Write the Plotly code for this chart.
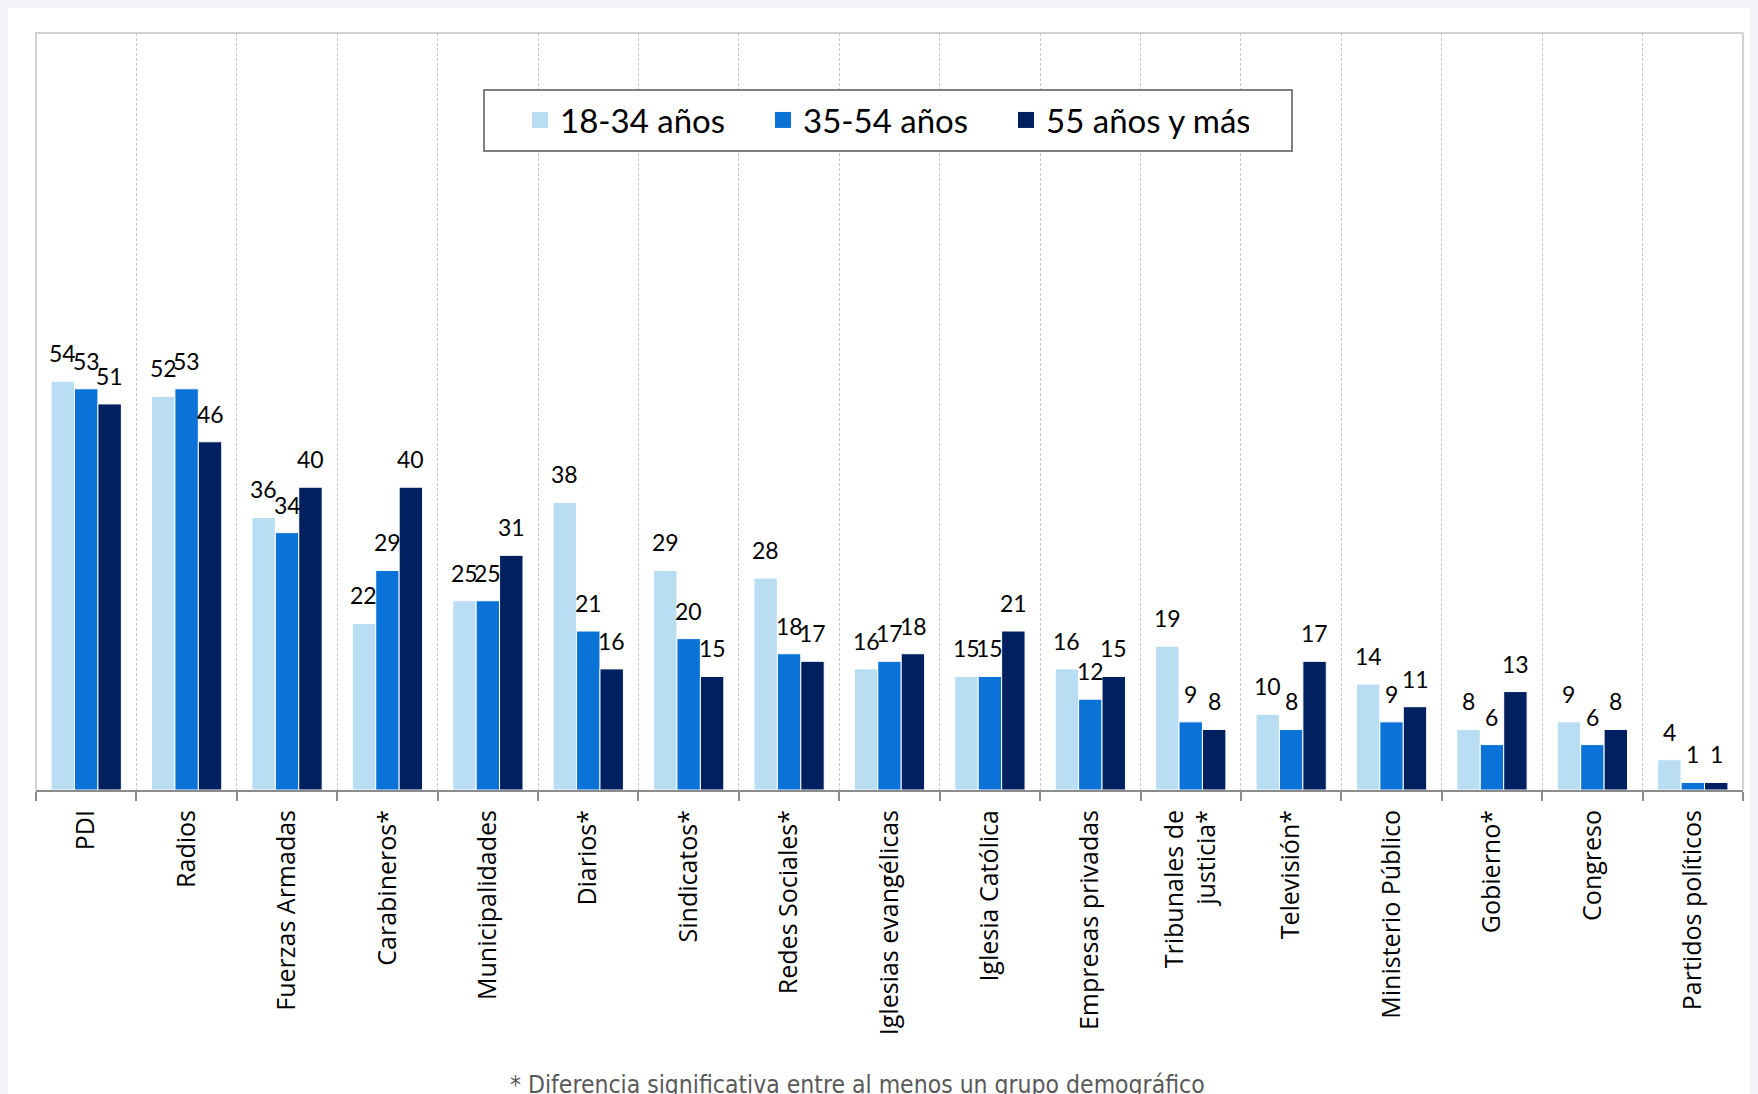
import plotly.graph_objects as go

categories = ["PDI", "Radios", "Fuerzas Armadas", "Carabineros*", "Municipalidades",
              "Diarios*", "Sindicatos*", "Redes Sociales*", "Iglesias evangélicas",
              "Iglesia Católica", "Empresas privadas", "Tribunales de<br>justicia*",
              "Televisión*", "Ministerio Público", "Gobierno*", "Congreso", "Partidos políticos"]
series_names = ["18-34 años", "35-54 años", "55 años y más"]
v_18_34 = [54, 52, 36, 22, 25, 38, 29, 28, 16, 15, 16, 19, 10, 14, 8, 9, 4]
v_35_54 = [53, 53, 34, 29, 25, 21, 20, 18, 17, 15, 12, 9, 8, 9, 6, 6, 1]
v_55_mas = [51, 46, 40, 40, 31, 16, 15, 17, 18, 21, 15, 8, 17, 11, 13, 8, 1]
colors = ["#B9DEF4", "#0B73D7", "#00205F"]
footnote = "* Diferencia significativa entre al menos un grupo demográfico"

W, H = 1758, 1094
OFF = 8  # browser body margin
ML, MR, MT, MB = 36 - OFF, 23, 33 - OFF, 312
PW, PH = W - ML - MR, H - MT - MB


def px_x(px):  # page pixel -> paper
    return (px - OFF - ML) / PW


def px_y(py):
    return (H - MB - (py - OFF)) / PH


fig = go.Figure()
all_vals = [v_18_34, v_35_54, v_55_mas]
for name, vals, col in zip(series_names, all_vals, colors):
    fig.add_trace(go.Bar(x=categories, y=vals, name=name, marker_color=col,
                         marker_line_color="white", marker_line_width=1,
                         showlegend=False))
# legend entries
for name, col in zip(series_names, colors):
    fig.add_trace(go.Scatter(x=[None], y=[None], mode="markers", name=name,
                             marker=dict(symbol="square", size=22, color=col)))

# data labels
offsets = [-23.5, 0, 23.5]
for vals, off in zip(all_vals, offsets):
    for c, v in zip(categories, vals):
        fig.add_annotation(x=c, y=v, text=str(v), showarrow=False, xshift=off, yshift=12,
                           yanchor="bottom", font=dict(family="Lato", size=23, color="#000"))

fig.add_annotation(x=px_x(857), y=px_y(1068), xref="paper", yref="paper", text=footnote,
                   showarrow=False, xanchor="center", yanchor="top",
                   font=dict(family="Liberation Sans Narrow, DejaVu Sans Condensed, sans-serif",
                             size=24.5, color="#595959"))

shapes = [
    # plot frame (top, left, right)
    dict(type="path", xref="paper", yref="paper", path="M 0,0 L 0,1 L 1,1 L 1,0",
         line=dict(color="#c4c4c4", width=1.5), layer="above"),
    # legend box
    dict(type="rect", xref="paper", yref="paper", x0=px_x(484), x1=px_x(1292),
         y0=px_y(151), y1=px_y(90), fillcolor="white", line=dict(color="#808080", width=2),
         layer="above"),
]

fig.update_layout(
    width=W, height=H,
    margin=dict(l=ML, r=MR, t=MT, b=MB),
    paper_bgcolor="white", plot_bgcolor="white",
    barmode="group", bargap=0.30, bargroupgap=0.0,
    shapes=shapes,
    showlegend=True,
    legend=dict(orientation="h", x=px_x(520), y=px_y(92), xanchor="left", yanchor="top",
                bgcolor="rgba(0,0,0,0)", borderwidth=0,
                font=dict(family="Lato", size=33, color="#000"),
                entrywidth=198, entrywidthmode="pixels", itemclick=False),
    xaxis=dict(type="category", tickson="boundaries", showgrid=True, gridcolor="#c8c8c8",
               griddash="3px,2px", gridwidth=1, ticks="outside", ticklen=9, tickwidth=2,
               tickcolor="#8c8c8c", showline=True, linecolor="#8c8c8c", linewidth=2,
               tickangle=-90, ticklabelstandoff=8,
               tickfont=dict(family="Open Sans", size=25, color="#000")),
    yaxis=dict(range=[0, 100], showticklabels=False, showgrid=False, zeroline=False,
               showline=False, ticks=""),
)

fig.write_html("out.html",
               post_script="document.body.style.background='#F4F5F9';")
